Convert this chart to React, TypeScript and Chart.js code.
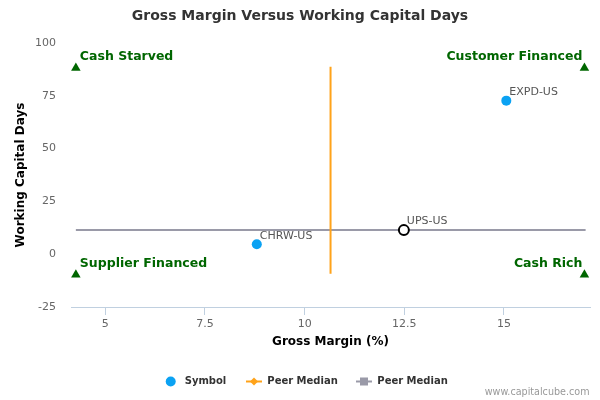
import React, { useEffect, useRef } from 'react';
import { Chart, registerables } from 'chart.js';

Chart.register(...registerables);

const FONT = "'DejaVu Sans', sans-serif";

const symbols = ['CHRW-US', 'UPS-US', 'EXPD-US'];
const grossMargin = [8.8, 12.49, 15.06];
const workingCapitalDays = [4.7, 11.4, 72.7];
const focusSymbol = 'UPS-US';

const peerMedianMargin = 10.65;
const peerMedianMarginSpan = [88.8, -9.2];
const peerMedianDays = 11.4;
const peerMedianDaysSpan = [4.26, 17.05];

const quadrantNames = ['Cash Starved', 'Customer Financed', 'Supplier Financed', 'Cash Rich'];
const quadrantX = [4.26, 17.02, 4.26, 17.02];
const quadrantY = [88.2, 88.2, -9.7, -9.7];

const xTicks = [5, 7.5, 10, 12.5, 15];
const yTicks = [-25, 0, 25, 50, 75, 100];

const BLUE = '#0ba2f3';
const ORANGE = '#ffa31a';
const GREY = '#9a9aa8';
const GREEN = '#006600';

const overlay = {
  id: 'overlay',
  afterDraw(chart: any) {
    const { ctx, scales } = chart;
    const x = scales.x, y = scales.y;
    ctx.save();

    // title
    ctx.fillStyle = '#333';
    ctx.font = `bold 14px ${FONT}`;
    ctx.textAlign = 'center';
    ctx.textBaseline = 'middle';
    ctx.fillText('Gross Margin Versus Working Capital Days', 300, 16);

    // point labels
    ctx.font = `11px ${FONT}`;
    ctx.fillStyle = '#555';
    ctx.textAlign = 'left';
    symbols.forEach((s, i) => {
      const px = x.getPixelForValue(grossMargin[i]);
      const py = y.getPixelForValue(workingCapitalDays[i]);
      ctx.fillText(s, px + 3, py - 8.5);
    });

    // quadrant labels
    ctx.font = `bold 12.5px ${FONT}`;
    ctx.fillStyle = GREEN;
    quadrantNames.forEach((q, i) => {
      const px = x.getPixelForValue(quadrantX[i]);
      const py = y.getPixelForValue(quadrantY[i]);
      const left = i % 2 === 0;
      ctx.textAlign = left ? 'left' : 'right';
      ctx.fillText(q, left ? px + 4 : px - 2, py - 11);
    });

    // legend
    const ly = 381.5;
    ctx.font = `bold 10px ${FONT}`;
    ctx.textAlign = 'left';
    ctx.fillStyle = BLUE;
    ctx.beginPath();
    ctx.arc(170.7, ly, 5, 0, Math.PI * 2);
    ctx.fill();
    ctx.fillStyle = '#333';
    ctx.fillText('Symbol', 184.7, ly);

    ctx.strokeStyle = ORANGE;
    ctx.lineWidth = 2;
    ctx.beginPath();
    ctx.moveTo(246, ly);
    ctx.lineTo(262, ly);
    ctx.stroke();
    ctx.fillStyle = ORANGE;
    ctx.beginPath();
    ctx.moveTo(254, ly - 4);
    ctx.lineTo(258, ly);
    ctx.lineTo(254, ly + 4);
    ctx.lineTo(250, ly);
    ctx.closePath();
    ctx.fill();
    ctx.fillStyle = '#333';
    ctx.fillText('Peer Median', 267.3, ly);

    ctx.strokeStyle = GREY;
    ctx.beginPath();
    ctx.moveTo(356, ly);
    ctx.lineTo(372, ly);
    ctx.stroke();
    ctx.fillStyle = GREY;
    ctx.fillRect(360, ly - 4, 8, 8);
    ctx.fillStyle = '#333';
    ctx.fillText('Peer Median', 377.3, ly);

    // credits
    ctx.font = `9.6px ${FONT}`;
    ctx.fillStyle = '#999';
    ctx.textAlign = 'right';
    ctx.fillText('www.capitalcube.com', 589.5, 392.5);

    ctx.restore();
  },
};

export default function App() {
  const canvasRef = useRef<HTMLCanvasElement | null>(null);

  useEffect(() => {
    document.body.style.margin = '0';
    const ctx = canvasRef.current?.getContext('2d');
    if (!ctx) return;

    const chart = new Chart(ctx, {
      type: 'scatter',
      data: {
        datasets: [
          {
            label: 'Symbol',
            data: symbols.map((_, i) => ({ x: grossMargin[i], y: workingCapitalDays[i] })),
            pointRadius: 5,
            pointHoverRadius: 5,
            pointBackgroundColor: symbols.map(s => (s === focusSymbol ? '#fff' : BLUE)),
            pointBorderColor: symbols.map(s => (s === focusSymbol ? '#000' : BLUE)),
            pointBorderWidth: symbols.map(s => (s === focusSymbol ? 2 : 0)),
          },
          {
            label: 'Peer Median',
            data: peerMedianMarginSpan.map(v => ({ x: peerMedianMargin, y: v })),
            showLine: true,
            borderColor: ORANGE,
            borderWidth: 2,
            pointRadius: 0,
          },
          {
            label: 'Peer Median',
            data: peerMedianDaysSpan.map(v => ({ x: v, y: peerMedianDays })),
            showLine: true,
            borderColor: GREY,
            borderWidth: 2,
            pointRadius: 0,
          },
          {
            label: 'Quadrants',
            data: quadrantNames.map((_, i) => ({ x: quadrantX[i], y: quadrantY[i] })),
            pointStyle: 'triangle',
            pointRadius: 5.5,
            backgroundColor: GREEN,
            borderColor: GREEN,
            borderWidth: 0,
          },
        ],
      },
      options: {
        responsive: false,
        animation: false,
        devicePixelRatio: 1,
        layout: { padding: { top: 43, right: 10, left: 0, bottom: 0 } },
        plugins: {
          legend: { display: false },
          title: { display: false },
          tooltip: { enabled: false },
        },
        scales: {
          x: {
            type: 'linear',
            min: 4.138,
            max: 17.16,
            afterFit: (s: any) => { s.height = 93; },
            afterBuildTicks: (s: any) => { s.ticks = xTicks.map(v => ({ value: v })); },
            grid: { display: true, drawOnChartArea: false, drawTicks: true, tickLength: 8, color: '#c0d0e0' },
            border: { display: true, color: '#c0d0e0', width: 1 },
            ticks: { color: '#666', font: { family: FONT, size: 11 }, padding: 3, maxRotation: 0 },
            title: {
              display: true,
              text: 'Gross Margin (%)',
              color: '#000',
              font: { family: FONT, size: 12, weight: 'bold' },
              padding: { top: 0, bottom: 51 },
            },
          },
          y: {
            type: 'linear',
            min: -25,
            max: 100,
            afterFit: (s: any) => { s.width = 71; },
            afterBuildTicks: (s: any) => { s.ticks = yTicks.map(v => ({ value: v })); },
            grid: { display: false, drawTicks: false },
            border: { display: false },
            ticks: { color: '#666', font: { family: FONT, size: 11 }, padding: 15 },
            title: {
              display: true,
              text: 'Working Capital Days',
              color: '#000',
              font: { family: FONT, size: 12, weight: 'bold' },
              padding: { top: 14, bottom: 0 },
            },
          },
        },
      },
      plugins: [overlay],
    });

    return () => chart.destroy();
  }, []);

  return (
    <div style={{ width: 600, height: 400 }}>
      <canvas ref={canvasRef} width={600} height={400} />
    </div>
  );
}
